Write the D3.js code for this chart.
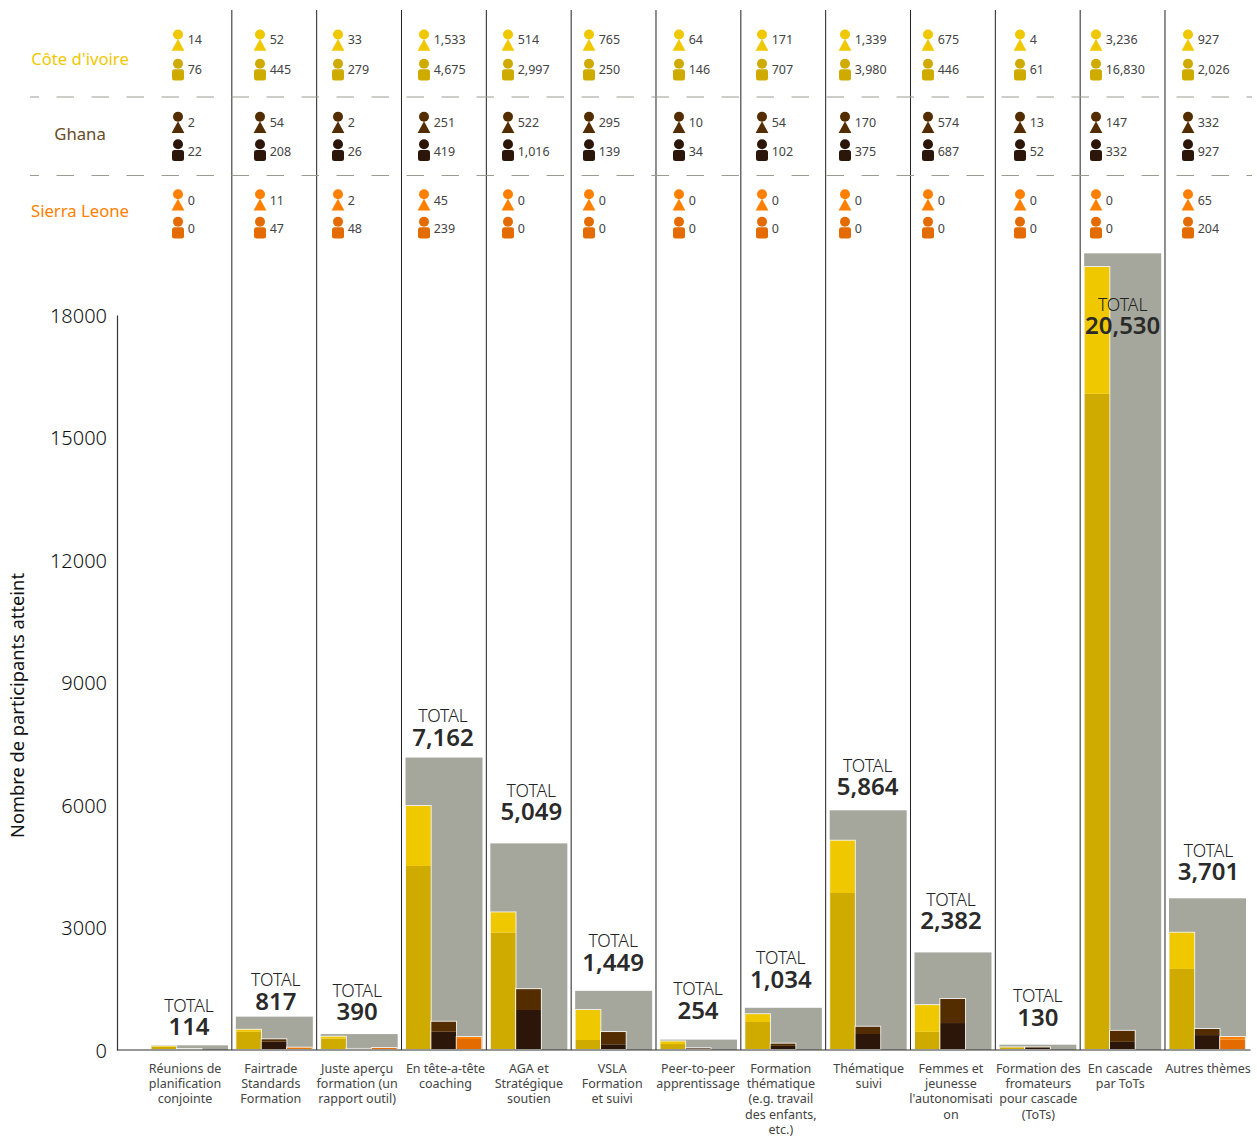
<!DOCTYPE html>
<html><head><meta charset="utf-8">
<script src="https://cdn.jsdelivr.net/npm/d3@7/dist/d3.min.js"></script>
<style>html,body{margin:0;padding:0;background:#fff}svg{display:block}text{font-family:"Noto Sans",sans-serif}</style>
</head><body><div id="chart"></div>
<script>
// ---- data ----
const categories = [
  ["Réunions de","planification","conjointe"],
  ["Fairtrade","Standards","Formation"],
  ["Juste aperçu","formation (un","rapport outil)"],
  ["En tête-a-tête","coaching"],
  ["AGA et","Stratégique","soutien"],
  ["VSLA","Formation","et suivi"],
  ["Peer-to-peer","apprentissage"],
  ["Formation","thématique","(e.g. travail","des enfants,","etc.)"],
  ["Thématique","suivi"],
  ["Femmes et","jeunesse","l'autonomisati","on"],
  ["Formation des","fromateurs","pour cascade","(ToTs)"],
  ["En cascade","par ToTs"],
  ["Autres thèmes"]
];
const countries = ["Côte d'ivoire","Ghana","Sierra Leone"];
const yTicks = [0,3000,6000,9000,12000,15000,18000];
const totalLabels = ["114","817","390","7,162","5,049","1,449","254","1,034","5,864","2,382","130","20,530","3,701"];

// table header figures
const ciWomenLabels = ["14","52","33","1,533","514","765","64","171","1,339","675","4","3,236","927"];
const ciMenLabels   = ["76","445","279","4,675","2,997","250","146","707","3,980","446","61","16,830","2,026"];
const ghWomenLabels = ["2","54","2","251","522","295","10","54","170","574","13","147","332"];
const ghMenLabels   = ["22","208","26","419","1,016","139","34","102","375","687","52","332","927"];
const slWomenLabels = ["0","11","2","45","0","0","0","0","0","0","0","0","65"];
const slMenLabels   = ["0","47","48","239","0","0","0","0","0","0","0","0","204"];

// bar heights as read against the axis
const totalBars = [114,817,390,7162,5060,1449,254,1034,5870,2390,130,19510,3715];
const ciMen   = [76,445,279,4507,2873,245,146,686,3845,446,61,16070,1985];
const ciWomen = [14,52,47,1469,497,735,64,192,1281,654,4,3105,888];
const ghMen   = [22,208,26,448,980,139,34,102,392,660,52,200,365];
const ghWomen = [2,54,2,245,510,301,10,54,178,590,13,270,150];
const slMen   = [0,47,48,270,0,0,0,0,0,0,0,0,255];
const slWomen = [0,11,2,48,0,0,0,0,0,0,0,0,65];

// ---- layout ----
const W = 1257, H = 1137;
const headerIconX = [178,260,338,424,508,589,679,762,845,928,1020,1096,1188];
const totalGap = [18,15,22,20,31,28,29,28,23,31,27,-73,26];
const totalDx = [-.5,1.5,-2,-1,2.5,-.5,-.5,-2.5,-.5,-2,0,0,1];
const catDx = [-4.5,-3.5,-2,1.5,0,-1.5,-.5,-2.5,.5,-2,.5,-2.5,.5];
const colors = {
  bg:"#a5a79c", ink:"#222", soft:"#444",
  women:["#f0c800","#532d00","#ff7f00"],
  men:["#cfab00","#2c1509","#e36b00"],
  name:["#f0c800","#6a4a1f","#ff7f00"]
};
const rows = [
  {women:ciWomenLabels, men:ciMenLabels, wy:34.5, my:63.7, wt:39.5, mt:69.5, ny:59},
  {women:ghWomenLabels, men:ghMenLabels, wy:116.7, my:144.3, wt:122.5, mt:151.5, ny:134},
  {women:slWomenLabels, men:slMenLabels, wy:194.3, my:221.7, wt:200.5, mt:228.5, ny:211}
];
const barSets = [[ciMen,ciWomen],[ghMen,ghWomen],[slMen,slWomen]];

const idx = d3.range(categories.length);
const x = d3.scaleBand().domain(idx).range([151,1246]).paddingInner(0.0923).paddingOuter(0);
const sub = d3.scaleBand().domain([0,1,2]).range([0.5,76.5]);
const y = d3.scaleLinear().domain([0,18000]).range([1050,315]);

const svg = d3.select("#chart").append("svg").attr("width",W).attr("height",H);

// grey total bars
svg.append("g").selectAll("rect").data(idx).join("rect")
  .attr("x",i=>x(i)).attr("width",x.bandwidth())
  .attr("y",i=>y(totalBars[i])).attr("height",i=>y(0)-y(totalBars[i]))
  .attr("fill",colors.bg);

// per-country stacked bars: pale outline underneath, fills on top
const barsG = svg.append("g");
idx.forEach(i=>{
  barSets.forEach((set,c)=>{
    const m=set[0][i], w=set[1][i];
    if(m+w<=0) return;
    const g=barsG.append("g").attr("transform",`translate(${x(i)+sub(c)},0)`);
    const bw=sub.bandwidth()-0.6;
    const base=y(0)-1;
    const topM=y(m), topW=y(m+w);
    g.append("rect").attr("x",-.9).attr("width",bw+1.8).attr("y",topW-.9).attr("height",y(0)-topW+.9)
      .attr("fill","#fff").attr("fill-opacity",.88);
    g.append("rect").attr("width",bw).attr("y",topM).attr("height",Math.max(0,base-topM)).attr("fill",colors.men[c]);
    g.append("rect").attr("width",bw).attr("y",topW).attr("height",Math.min(topM,base)-topW).attr("fill",colors.women[c]);
  });
});

// column separators
svg.append("g").selectAll("line").data(idx.slice(1)).join("line")
  .attr("x1",i=>x(i)-4).attr("x2",i=>x(i)-4).attr("y1",10).attr("y2",1050)
  .attr("stroke","#222").attr("stroke-width",1);

// dashed row rules
svg.append("g").selectAll("line").data([97,175.5]).join("line")
  .attr("x1",30).attr("x2",1252).attr("y1",d=>d).attr("y2",d=>d)
  .attr("stroke","#9a9c92").attr("stroke-width",1)
  .attr("stroke-dasharray","17.5 17.5").attr("stroke-dashoffset",8.5);

// axis
const axis = svg.append("g").attr("transform","translate(117,0)")
  .call(d3.axisLeft(y).tickValues(yTicks).tickFormat(d3.format("d")).tickSize(0).tickSizeOuter(0).tickPadding(10));
axis.select(".domain").attr("stroke","#333").attr("stroke-width",1.2);
axis.selectAll("text").attr("font-size",20).attr("fill","#111").attr("font-family",'"Noto Sans",sans-serif').attr("font-weight",300).attr("dy","0.37em");
svg.append("line").attr("x1",117).attr("x2",1250.5).attr("y1",y(0)).attr("y2",y(0)).attr("stroke","#333").attr("stroke-width",1.2);

svg.append("text").attr("transform","translate(24,705.5) rotate(-90)")
  .attr("text-anchor","middle").attr("font-size",18.3).attr("fill","#111")
  .text("Nombre de participants atteint");

// category labels
const catG = svg.append("g");
idx.forEach(i=>{
  const t=catG.append("text").attr("text-anchor","middle").attr("font-size",12.5).attr("fill",colors.soft)
    .attr("transform",`translate(${x(i)+x.bandwidth()/2+catDx[i]},1072.5)`);
  categories[i].forEach((l,k)=>t.append("tspan").attr("x",0).attr("y",k*15.4).text(l));
});

// totals
const totG = svg.append("g").attr("text-anchor","middle");
idx.forEach(i=>{
  const cx=x(i)+x.bandwidth()/2+totalDx[i];
  const ny=y(totalBars[i])-totalGap[i];
  totG.append("text").attr("x",cx).attr("y",ny-15.5).attr("font-size",17.5).attr("font-weight",300).attr("fill",colors.ink).text("TOTAL");
  totG.append("text").attr("x",cx).attr("y",ny+8).attr("font-size",24).attr("font-weight",600).attr("fill","#2a2a2a").text(totalLabels[i]);
});

// country names
svg.append("g").selectAll("text").data(countries).join("text")
  .attr("x",80).attr("y",(d,i)=>rows[i].ny).attr("dy","0.35em").attr("text-anchor","middle")
  .attr("font-size",16.7).attr("fill",(d,i)=>colors.name[i]).text(d=>d);

// header pictograms and figures
const head = svg.append("g");
rows.forEach((r,c)=>{
  idx.forEach(i=>{
    const cx=headerIconX[i];
    head.append("circle").attr("cx",cx).attr("cy",r.wy).attr("r",5).attr("fill",colors.women[c]);
    const ty=r.wy+4.5;
    head.append("path").attr("d",d3.line()([[cx,ty],[cx+6.4,ty+11.7],[cx-6.4,ty+11.7]])+"Z").attr("fill",colors.women[c]);
    head.append("circle").attr("cx",cx).attr("cy",r.my).attr("r",5).attr("fill",colors.men[c]);
    head.append("rect").attr("x",cx-6).attr("y",r.my+5.6).attr("width",12).attr("height",11.2).attr("rx",2.5).attr("fill",colors.men[c]);
    head.append("text").attr("x",cx+9.7).attr("y",r.wt).attr("dy","0.35em").attr("font-size",12.5).attr("fill",colors.soft).text(r.women[i]);
    head.append("text").attr("x",cx+9.7).attr("y",r.mt).attr("dy","0.35em").attr("font-size",12.5).attr("fill",colors.soft).text(r.men[i]);
  });
});
</script></body></html>
